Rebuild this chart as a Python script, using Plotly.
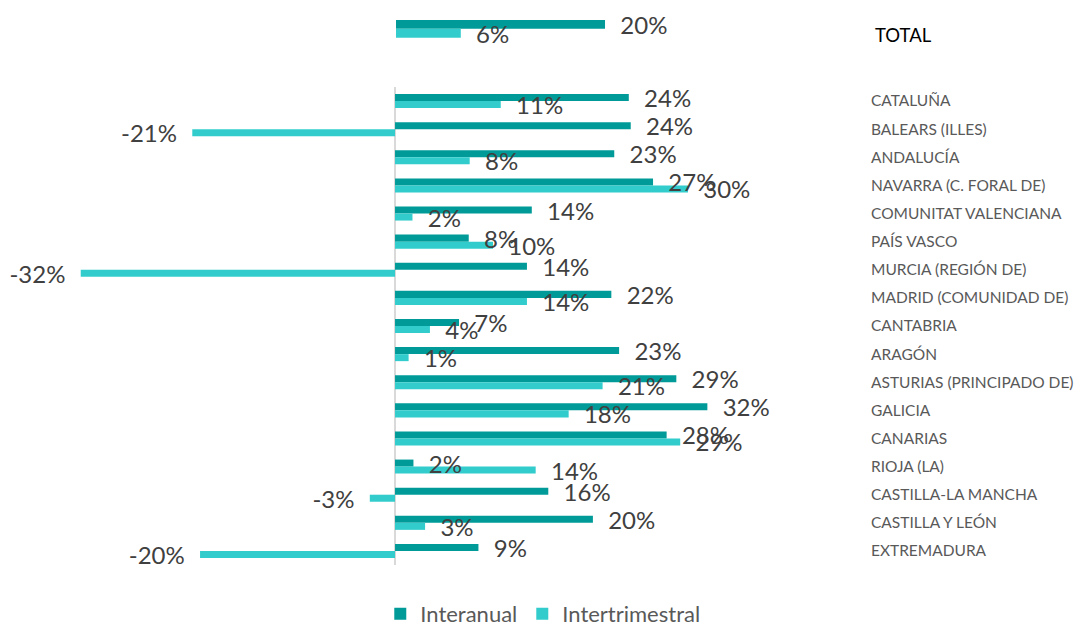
import plotly.graph_objects as go

regions = [
    "CATALUÑA", "BALEARS (ILLES)", "ANDALUCÍA", "NAVARRA (C. FORAL DE)",
    "COMUNITAT VALENCIANA", "PAÍS VASCO", "MURCIA (REGIÓN DE)",
    "MADRID (COMUNIDAD DE)", "CANTABRIA", "ARAGÓN", "ASTURIAS (PRINCIPADO DE)",
    "GALICIA", "CANARIAS", "RIOJA (LA)", "CASTILLA-LA MANCHA",
    "CASTILLA Y LEÓN", "EXTREMADURA",
]
interanual = [24.1, 24.3, 22.6, 26.6, 14.1, 7.6, 13.6, 22.3, 6.6, 23.1,
              29.0, 32.2, 28.0, 1.9, 15.8, 20.4, 8.6]
intertrimestral = [10.9, -20.9, 7.7, 30.2, 1.8, 10.1, -32.4, 13.6, 3.6, 1.4,
                   21.4, 17.9, 29.4, 14.5, -2.6, 3.1, -20.1]

total_label = ["TOTAL"]
total_interanual = [20.0]
total_intertrimestral = [6.2]

DARK = "#009B98"
LIGHT = "#33CCCC"
TEXT = "#404040"
PAD = "\u00a0\u00a0"

# page has an 8px body margin, so the figure is a bit smaller than the window
W, H = 1076, 618


def pct_text(vals):
    return [PAD + f"{v:.0f}%" if v >= 0 else f"{v:.0f}%" + PAD for v in vals]


def bar(x, y, name, color, xa, ya, group, legend):
    return go.Bar(
        x=x, y=y, name=name, orientation="h", offsetgroup=group,
        marker=dict(color=color, line=dict(width=0)),
        xaxis=xa, yaxis=ya, showlegend=legend, hoverinfo="x+y",
    )


def labels(x, y, xa, ya, group):
    # invisible copy of the bars, drawn last so the labels sit above every bar
    return go.Bar(
        x=x, y=y, orientation="h", offsetgroup=group,
        marker=dict(color="rgba(0,0,0,0)", line=dict(width=0)),
        text=pct_text(x), textposition="outside", constraintext="none",
        cliponaxis=False,
        textfont=dict(family="Lato", size=24, color=TEXT),
        xaxis=xa, yaxis=ya, showlegend=False, hoverinfo="skip",
    )


fig = go.Figure()
fig.add_trace(bar(interanual, regions, "Interanual", DARK, "x", "y", "a", True))
fig.add_trace(bar(intertrimestral, regions, "Intertrimestral", LIGHT, "x", "y", "b", True))
fig.add_trace(bar(total_interanual, total_label, "Interanual", DARK, "x2", "y2", "a", False))
fig.add_trace(bar(total_intertrimestral, total_label, "Intertrimestral", LIGHT, "x2", "y2", "b", False))
fig.add_trace(labels(interanual, regions, "x", "y", "a"))
fig.add_trace(labels(intertrimestral, regions, "x", "y", "b"))
fig.add_trace(labels(total_interanual, total_label, "x2", "y2", "a"))
fig.add_trace(labels(total_intertrimestral, total_label, "x2", "y2", "b"))

fig.update_layout(
    width=W, height=H,
    margin=dict(l=12, r=222, t=0, b=0, autoexpand=False),
    paper_bgcolor="white", plot_bgcolor="white",
    barmode="group", bargap=0.5, bargroupgap=0,
    font=dict(family="Lato", color=TEXT),
    xaxis=dict(range=[-38.66, 48.14], showticklabels=False, showgrid=False,
               zeroline=True, zerolinecolor="#d9d9d9", zerolinewidth=2,
               domain=[0, 1], anchor="y", automargin=False),
    yaxis=dict(domain=[1 - 557 / H, 1 - 79 / H], autorange="reversed", side="right",
               showgrid=False, zeroline=False, ticks="", ticklabelstandoff=8,
               tickfont=dict(family="Lato", size=15.5, color="#595959"),
               anchor="x", automargin=False),
    xaxis2=dict(range=[-35.98, 44.59], showticklabels=False, showgrid=False,
                zeroline=False, domain=[0, 1], anchor="y2", automargin=False),
    yaxis2=dict(domain=[1 - 38.5 / H, 1 - 3.1 / H], autorange="reversed",
                showticklabels=False, showgrid=False,
                zeroline=False, ticks="", anchor="x2", automargin=False),
    legend=dict(orientation="h", xref="container", yref="container",
                x=0.497, y=1 - 606 / H, xanchor="center", yanchor="middle",
                font=dict(family="Lato", size=22, color="#595959"),
                itemwidth=30, traceorder="normal"),
    annotations=[dict(text=total_label[0], xref="paper", yref="paper",
                      x=1.0, y=1 - 27 / H, xanchor="left", yanchor="middle",
                      xshift=11, showarrow=False,
                      font=dict(family="Lato", size=18.5, color="#000000"))],
)

fig.write_html("out.html")
